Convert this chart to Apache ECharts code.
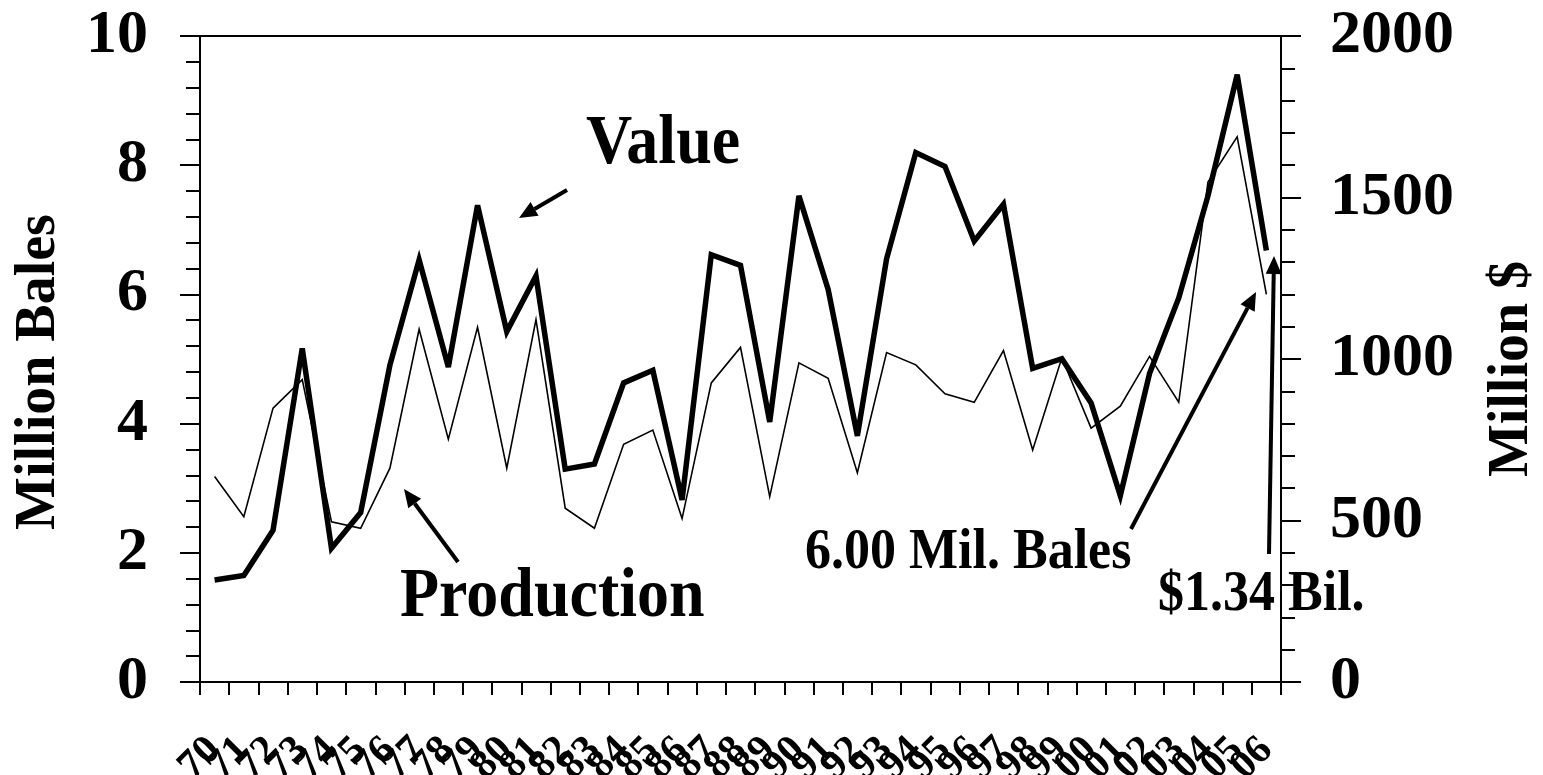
<!DOCTYPE html>
<html>
<head>
<meta charset="utf-8">
<script src="https://cdn.jsdelivr.net/npm/echarts@6/dist/echarts.min.js"></script>
<style>
html,body{margin:0;padding:0;background:#fff;}
#chart{width:1543px;height:775px;}
</style>
</head>
<body>
<div id="chart"></div>
<script>
const years = ['70','71','72','73','74','75','76','77','78','79','80','81','82','83','84','85','86','87','88','89','90','91','92','93','94','95','96','97','98','99','00','01','02','03','04','05','06'];
const production = [3.18,2.56,4.24,4.68,2.48,2.38,3.31,5.46,3.76,5.49,3.31,5.61,2.69,2.38,3.68,3.90,2.53,4.63,5.18,2.87,4.94,4.70,3.24,5.10,4.91,4.46,4.33,5.13,3.59,5.02,3.93,4.27,5.04,4.33,7.74,8.44,6.00];
const value = [316,330,470,1033,414,525,981,1307,975,1476,1085,1257,659,675,926,965,564,1323,1290,805,1505,1215,762,1310,1639,1596,1365,1479,971,1001,864,577,955,1189,1505,1880,1336];
const leftTicks = [0,2,4,6,8,10];
const rightTicks = [0,500,1000,1500,2000];

const FONT = '"Liberation Serif","Times New Roman",serif';

function arrow(x1, y1, x2, y2) {
  const a = Math.atan2(y2 - y1, x2 - x1);
  const L = 18, W = 8;
  const bx = x2 - L * Math.cos(a), by = y2 - L * Math.sin(a);
  const px = -Math.sin(a) * W, py = Math.cos(a) * W;
  return [
    {type:'line', shape:{x1:x1, y1:y1, x2:bx, y2:by}, style:{stroke:'#000', lineWidth:4}},
    {type:'polygon', shape:{points:[[x2,y2],[bx+px,by+py],[bx-px,by-py]]}, style:{fill:'#000'}}
  ];
}
function label(text, x, y, size) {
  return {type:'text', x:x, y:y, scaleY:1.1, style:{text:text, font:'bold ' + size + 'px ' + FONT, fill:'#000', align:'left', verticalAlign:'middle'}};
}

const chart = echarts.init(document.getElementById('chart'), null, {renderer:'canvas'});
chart.setOption({
  animation:false,
  backgroundColor:'#fff',
  grid:{left:200, right:262, top:36, bottom:93, containLabel:false, outerBoundsMode:'none', show:true, borderColor:'#000', borderWidth:2, backgroundColor:'transparent'},
  xAxis:{
    type:'category', data:years, boundaryGap:true,
    axisLine:{lineStyle:{color:'#000', width:2}},
    axisTick:{show:true, inside:false, length:13, alignWithLabel:false, interval:0, lineStyle:{color:'#000', width:2}},
    axisLabel:{interval:0, rotate:45, margin:62, fontSize:41, fontWeight:'bold', fontFamily:FONT, color:'#000'}
  },
  yAxis:[
    {type:'value', position:'left', min:leftTicks[0], max:leftTicks[leftTicks.length-1], interval:2,
     axisLine:{show:true, lineStyle:{color:'#000', width:2}},
     axisTick:{show:true, inside:false, length:20, lineStyle:{color:'#000', width:2}},
     minorTick:{show:true, splitNumber:5, length:14, lineStyle:{color:'#000', width:2}},
     splitLine:{show:false},
     axisLabel:{margin:52, fontSize:62, fontWeight:'bold', fontFamily:FONT, color:'#000', formatter:function(v){return String(v);}}},
    {type:'value', position:'right', min:rightTicks[0], max:rightTicks[rightTicks.length-1], interval:500,
     axisLine:{show:true, lineStyle:{color:'#000', width:2}},
     axisTick:{show:true, inside:false, length:20, lineStyle:{color:'#000', width:2}},
     minorTick:{show:true, splitNumber:5, length:14, lineStyle:{color:'#000', width:2}},
     splitLine:{show:false},
     axisLabel:{margin:49, fontSize:62, fontWeight:'bold', fontFamily:FONT, color:'#000', formatter:function(v){return String(v);}}}
  ],
  series:[
    {name:'Production', type:'line', yAxisIndex:0, data:production, showSymbol:false, symbol:'none',
     lineStyle:{color:'#000', width:1.6, join:'miter'}, z:2},
    {name:'Value', type:'line', yAxisIndex:1, data:value, showSymbol:false, symbol:'none',
     lineStyle:{color:'#000', width:5.5, join:'miter', miterLimit:4}, z:3}
  ],
  graphic:[
    {type:'text', x:40, y:372, rotation:Math.PI/2, style:{text:'Million Bales', font:'bold 56px ' + FONT, fill:'#000', align:'center', verticalAlign:'middle'}},
    {type:'text', x:1513, y:369, rotation:Math.PI/2, style:{text:'Million $', font:'bold 56px ' + FONT, fill:'#000', align:'center', verticalAlign:'middle'}},
    label('Value', 586, 145, 64),
    label('Production', 400, 598, 64),
    label('6.00 Mil. Bales', 805, 553, 52),
    label('$1.34 Bil.', 1158, 595, 52)
  ].concat(arrow(567,190,519,218), arrow(458,562,404,489), arrow(1131,529,1256,292), arrow(1269,554,1274,256))
});
</script>
</body>
</html>
